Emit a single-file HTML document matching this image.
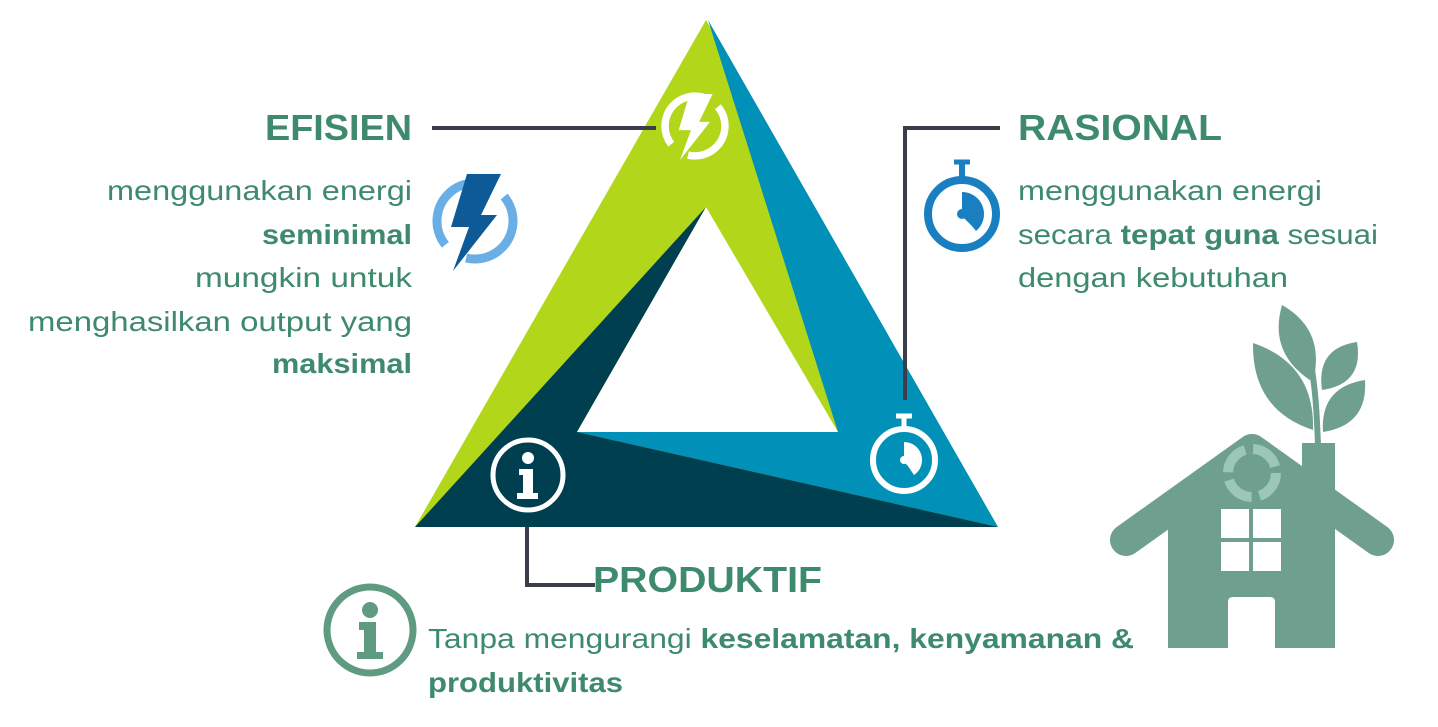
<!DOCTYPE html>
<html><head><meta charset="utf-8"><style>
html,body{margin:0;padding:0;background:#fff;}
svg{display:block;}
text{font-family:"Liberation Sans",sans-serif;fill:#3d8a6c;}
</style></head><body>
<svg width="1438" height="727" viewBox="0 0 1438 727" xmlns="http://www.w3.org/2000/svg">
<defs>
<g id="bolt"><polygon points="-8,-47 26,-47 6,-6 22,-6 -22,50 -6,6 -24,6"/></g>
</defs>
<polygon points="706,20 998,527 415,527" fill="#b2d61a"/>
<polygon points="708,20 998,527 577,432 838,432" fill="#0090b8"/>
<polygon points="415,527 998,527 577,432 706,207" fill="#003f4f"/>
<polygon points="706,207 838,432 577,432" fill="#fff"/>

<polyline points="432,128 656,128" fill="none" stroke="#3a3d4a" stroke-width="4"/>
<polyline points="1000,128 905,128 905,400" fill="none" stroke="#3a3d4a" stroke-width="4"/>
<polyline points="527,527 527,585 595,585" fill="none" stroke="#3a3d4a" stroke-width="4"/>

<g transform="translate(695,126) scale(0.68)">
<circle r="44" fill="none" stroke="#fff" stroke-width="11" stroke-dasharray="110 30 110 30" transform="rotate(-40)"/>
<use href="#bolt" fill="#fff"/>
</g>
<g transform="translate(475,221)">
<circle r="38" fill="none" stroke="#6aaee6" stroke-width="9" stroke-dasharray="95 25 95 25" transform="rotate(-40)"/>
<use href="#bolt" fill="#0e5a96"/>
</g>

<g transform="translate(904,460)" fill="none" stroke="#fff">
<circle r="31" stroke-width="6"/>
<line x1="0" y1="-31" x2="0" y2="-43" stroke-width="5"/>
<line x1="-8" y1="-44" x2="8" y2="-44" stroke-width="5"/>
<path d="M0,-18 A18,18 0 0 1 10,15 L0,0 Z" fill="#fff" stroke="none"/>
<line x1="0" y1="0" x2="12" y2="12" stroke-width="3"/>
<circle r="4" fill="#fff" stroke="none"/>
</g>
<g transform="translate(962,214)" fill="none" stroke="#1a7fc1">
<circle r="34" stroke-width="8"/>
<line x1="0" y1="-34" x2="0" y2="-50" stroke-width="6"/>
<line x1="-8" y1="-52" x2="8" y2="-52" stroke-width="5"/>
<path d="M0,-22 A22,22 0 0 1 14,17 L0,0 Z" fill="#1a7fc1" stroke="none"/>
<line x1="0" y1="0" x2="14" y2="14" stroke-width="3"/>
<circle r="5" fill="#1a7fc1" stroke="none"/>
</g>

<g transform="translate(528,475)">
<circle r="35" fill="none" stroke="#fff" stroke-width="5"/>
<circle cx="0" cy="-17" r="6" fill="#fff"/>
<path d="M-9,-6 L5,-6 L5,18 L10,18 L10,24 L-11,24 L-11,18 L-5,18 L-5,0 L-9,0 Z" fill="#fff"/>
</g>
<g transform="translate(370,630)">
<circle r="43" fill="none" stroke="#5f9b80" stroke-width="7"/>
<circle cx="0" cy="-20" r="8" fill="#5f9b80"/>
<path d="M-11,-8 L6,-8 L6,22 L13,22 L13,29 L-13,29 L-13,22 L-6,22 L-6,0 L-11,0 Z" fill="#5f9b80"/>
</g>

<g fill="#6fa08f">
<rect x="1168" y="500" width="167" height="148"/>
<rect x="1302" y="443" width="33" height="80"/>
<polyline points="1126,540 1252,450 1378,540" fill="none" stroke="#6fa08f" stroke-width="32" stroke-linecap="round" stroke-linejoin="round"/>
<polygon points="1252,450 1168,510 1335,510"/>
<path d="M1318,445 C1317,420 1316,395 1312,370 C1308,350 1300,335 1292,318" fill="none" stroke="#6fa08f" stroke-width="6"/>
<path d="M1313,430 Q1315,364 1253,343 Q1252,410 1313,430 Z"/>
<path d="M1313,382 Q1326,330 1282,305 Q1268,354 1313,382 Z"/>
<path d="M1322,390 Q1364,384 1357,342 Q1316,348 1322,390 Z"/>
<path d="M1323,432 Q1368,425 1365,380 Q1320,387 1323,432 Z"/>
</g>
<circle cx="1252" cy="473" r="24" fill="none" stroke="#9cc6b6" stroke-width="10" stroke-dasharray="30 8"/>
<g fill="#fff">
<rect x="1221" y="509" width="28" height="29"/><rect x="1253" y="509" width="28" height="29"/>
<rect x="1221" y="542" width="28" height="29"/><rect x="1253" y="542" width="28" height="29"/>
<path d="M1228,648 L1228,602 Q1228,597 1233,597 L1270,597 Q1275,597 1275,602 L1275,648 Z"/>
</g>

<g font-weight="bold" font-size="36">
<text x="265" y="140" textLength="147" lengthAdjust="spacingAndGlyphs">EFISIEN</text>
<text x="1018" y="140" textLength="204" lengthAdjust="spacingAndGlyphs">RASIONAL</text>
<text x="593" y="592" textLength="229" lengthAdjust="spacingAndGlyphs">PRODUKTIF</text>
</g>
<g font-size="28">
<text x="107" y="200" textLength="305" lengthAdjust="spacingAndGlyphs">menggunakan energi</text>
<text x="262" y="244" font-weight="bold" textLength="150" lengthAdjust="spacingAndGlyphs">seminimal</text>
<text x="195" y="287" textLength="217" lengthAdjust="spacingAndGlyphs">mungkin untuk</text>
<text x="28" y="331" textLength="384" lengthAdjust="spacingAndGlyphs">menghasilkan output yang</text>
<text x="272" y="373" font-weight="bold" textLength="140" lengthAdjust="spacingAndGlyphs">maksimal</text>

<text x="1018" y="200" textLength="304" lengthAdjust="spacingAndGlyphs">menggunakan energi</text>
<text x="1018" y="244" textLength="360" lengthAdjust="spacingAndGlyphs">secara <tspan font-weight="bold">tepat guna</tspan> sesuai</text>
<text x="1018" y="287" textLength="270" lengthAdjust="spacingAndGlyphs">dengan kebutuhan</text>

<text x="428" y="648" textLength="706" lengthAdjust="spacingAndGlyphs">Tanpa mengurangi <tspan font-weight="bold">keselamatan, kenyamanan &amp;</tspan></text>
<text x="428" y="692" font-weight="bold" textLength="195" lengthAdjust="spacingAndGlyphs">produktivitas</text>
</g>
</svg>
</body></html>
